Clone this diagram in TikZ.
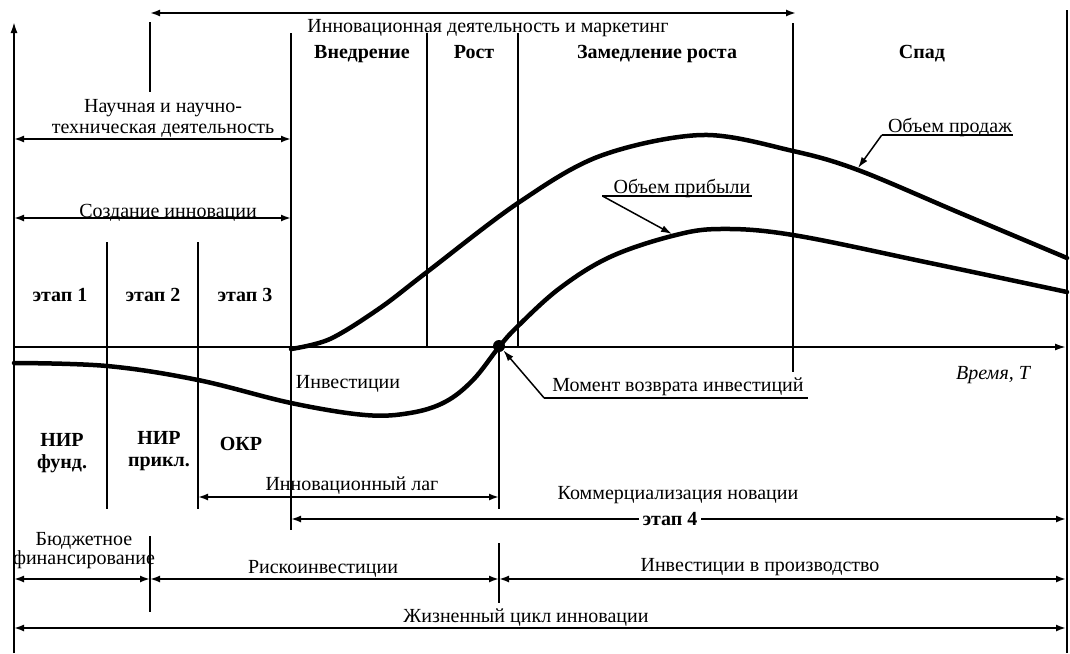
\documentclass[tikz,border=0pt]{standalone}
\usepackage{fontspec}
\setmainfont{Liberation Serif}
\usetikzlibrary{arrows.meta}

\begin{document}
\begin{tikzpicture}[x=1pt, y=-1pt,
        divider/.style={line width=1.8pt},
        bigcurve/.style={line width=4.5pt, line join=round, line cap=round},
        spanarrow/.style={line width=1.8pt, {Latex[length=10pt,width=7pt]}-{Latex[length=10pt,width=7pt]}},
        leader/.style={line width=1.5pt, -{Latex[length=11pt,width=7pt]}},
        txt/.style={font=\fontsize{20}{21}\selectfont, inner sep=1pt, text height=14pt, text depth=4pt},
        txt2/.style={font=\fontsize{20}{21}\selectfont, inner sep=1pt, align=center},
        btxt/.style={font=\fontsize{20}{22}\selectfont\bfseries, inner sep=1pt, text height=14pt, text depth=4pt},
        btxt2/.style={font=\fontsize{20}{22}\selectfont\bfseries, inner sep=1pt, align=center}]
        \useasboundingbox (0, 0) rectangle (1070, 653);

        % axes
        \draw[divider, -{Latex[length=11pt,width=7pt]}] (14, 653) -- (14, 22);
        \draw[divider, -{Latex[length=11pt,width=7pt]}] (14, 347) -- (1066, 347);
        \draw[divider] (1067, 10) -- (1067, 653);

        % vertical dividers
        \draw[divider] (150, 22) -- (150, 92);
        \draw[divider] (291, 33) -- (291, 530);
        \draw[divider] (427, 33) -- (427, 347);
        \draw[divider] (518, 33) -- (518, 347);
        \draw[divider] (793, 23) -- (793, 372);
        \draw[divider] (107, 242) -- (107, 509);
        \draw[divider] (198, 242) -- (198, 509);
        \draw[divider] (499, 347) -- (499, 509);
        \draw[divider] (499, 543) -- (499, 603);
        \draw[divider] (150, 536) -- (150, 612);

        % spans
        \draw[spanarrow] (150, 13) -- (796, 13);
        \draw[spanarrow] (14, 139) -- (291, 139);
        \draw[spanarrow] (14, 218) -- (291, 218);
        \draw[spanarrow] (198, 497) -- (499, 497);
        \draw[spanarrow] (291, 519) -- (1066, 519);
        \draw[spanarrow] (14, 579) -- (150, 579);
        \draw[spanarrow] (150, 579) -- (499, 579);
        \draw[spanarrow] (499, 579) -- (1066, 579);
        \draw[spanarrow] (14, 628) -- (1066, 628);

        % curves
        \draw[bigcurve] plot[smooth, tension=0.55] coordinates {(291, 349) (330, 339) (380, 308) (427, 272)
            (518, 203) (600, 156) (702, 135) (793, 151) (858, 170) (960, 213) (1067, 258)};
        \draw[bigcurve] plot[smooth, tension=0.6] coordinates {(14, 363) (107, 366) (198, 380) (291, 403)
            (365, 415) (410, 413) (445, 402) (473, 380) (499, 347) (518, 326) (560, 288) (610, 257)
            (672, 236) (720, 229) (793, 235) (930, 263) (1067, 292)};
        \node[circle, fill, inner sep=0pt, minimum size=12pt] (payback) at (499, 346) {};

        % labels
        \node[txt] (inno) at (488, 27) {Инновационная деятельность и маркетинг};
        \node[btxt] (vned) at (362, 53) {Внедрение};
        \node[btxt] (rost) at (474, 53) {Рост};
        \node[btxt] (zamed) at (657, 53) {Замедление роста};
        \node[btxt] (spad) at (922, 53) {Спад};
        \node[txt2] (sci) at (163, 118) {Научная и научно-\\техническая деятельность};
        \node[txt] (create) at (168, 212) {Создание инновации};
        \node[btxt] (et1) at (60, 296) {этап 1};
        \node[btxt] (et2) at (153, 296) {этап 2};
        \node[btxt] (et3) at (245, 296) {этап 3};
        \node[txt] (inv) at (348, 383) {Инвестиции};
        \node[txt] (time) at (993, 374) {\itshape Время, T};
        \node[btxt2] (nir1) at (62, 453) {НИР\\фунд.};
        \node[btxt2] (nir2) at (159, 451) {НИР\\прикл.};
        \node[btxt] (okr) at (241, 445) {ОКР};
        \node[txt] (lag) at (352, 485) {Инновационный лаг};
        \node[txt] (comm) at (678, 494) {Коммерциализация новации};
        \node[btxt, fill=white, inner xsep=4pt] (et4) at (670, 520) {этап 4};
        \node[txt2] (budget) at (84, 551) {Бюджетное\\[-2pt]финансирование};
        \node[txt] (risk) at (323, 568) {Рискоинвестиции};
        \node[txt] (prod) at (760, 566) {Инвестиции в производство};
        \node[txt] (life) at (526, 617) {Жизненный цикл инновации};

        % callouts
        \node[txt] (salesLbl) at (950, 127) {Объем продаж};
        \node[txt] (profLbl) at (682, 188) {Объем прибыли};
        \node[txt] (retLbl) at (678, 386) {Момент возврата инвестиций};
        \coordinate (salesTip) at (858, 168);
        \coordinate (profTip) at (672, 234);
        \draw[divider] ([xshift=-5pt, yshift=-3pt]salesLbl.base west) -- ([yshift=-3pt]salesLbl.base east);
        \draw[divider] ([xshift=-10pt, yshift=-3pt]profLbl.base west) -- ([yshift=-3pt]profLbl.base east);
        \draw[divider] ([xshift=-7pt, yshift=-7pt]retLbl.base west) -- ([xshift=3pt, yshift=-7pt]retLbl.base east);
        \draw[leader] ([xshift=-5pt, yshift=-3pt]salesLbl.base west) -- (salesTip);
        \draw[leader] ([xshift=-10pt, yshift=-3pt]profLbl.base west) -- (profTip);
        \draw[leader] ([xshift=-7pt, yshift=-7pt]retLbl.base west) -- (payback.south east);
\end{tikzpicture}
\end{document}
